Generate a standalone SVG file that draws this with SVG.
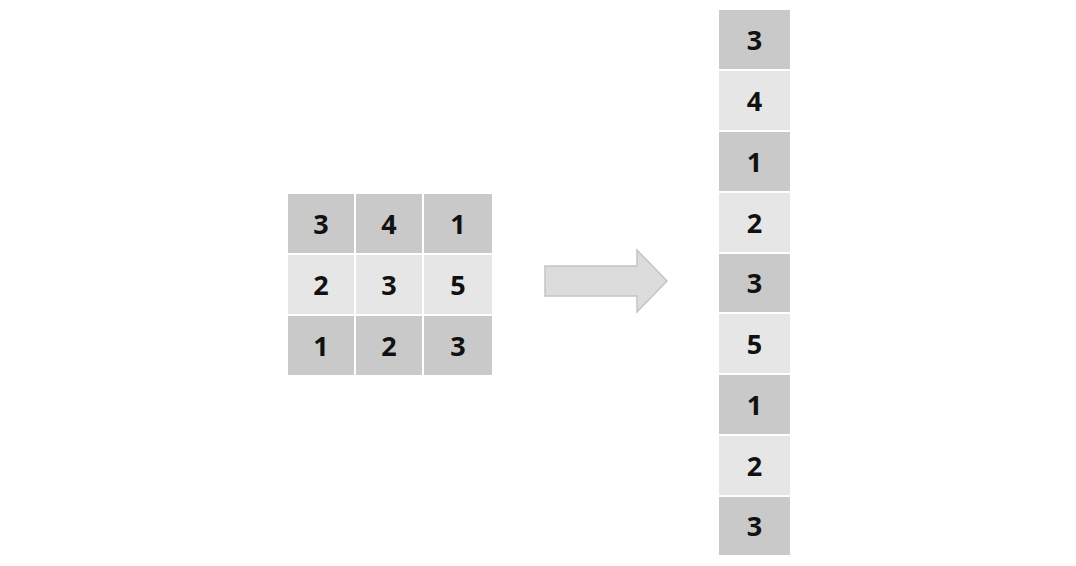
<svg xmlns="http://www.w3.org/2000/svg" width="1076" height="566" viewBox="0 0 1076 566">
<style>
.d{fill:#c9c9c9}
.l{fill:#e6e6e6}
text{font-family:"Open Sans","Liberation Sans",sans-serif;font-weight:bold;font-size:27px;fill:#111;text-anchor:middle;dominant-baseline:central}
</style>
<rect width="1076" height="566" fill="#fff"/>
<g id="grid">
<g id="g11"><rect class="d" x="288" y="194" width="66" height="59"/><text x="321" y="223">3</text></g>
<g id="g12"><rect class="d" x="356" y="194" width="66" height="59"/><text x="389" y="223">4</text></g>
<g id="g13"><rect class="d" x="424" y="194" width="68" height="59"/><text x="458" y="223">1</text></g>
<g id="g21"><rect class="l" x="288" y="255" width="66" height="59"/><text x="321" y="284">2</text></g>
<g id="g22"><rect class="l" x="356" y="255" width="66" height="59"/><text x="389" y="284">3</text></g>
<g id="g23"><rect class="l" x="424" y="255" width="68" height="59"/><text x="458" y="284">5</text></g>
<g id="g31"><rect class="d" x="288" y="316" width="66" height="59"/><text x="321" y="345">1</text></g>
<g id="g32"><rect class="d" x="356" y="316" width="66" height="59"/><text x="389" y="345">2</text></g>
<g id="g33"><rect class="d" x="424" y="316" width="68" height="59"/><text x="458" y="345">3</text></g>
</g>
<g id="connectors">
<polygon points="545,266 637,266 637,250 667,281 637,312 637,296 545,296" fill="#dcdcdc" stroke="#c4c4c4" stroke-width="1.5"/>
</g>
<g id="column">
<g id="c1"><rect class="d" x="719" y="10" width="71" height="59"/><text x="754.5" y="39">3</text></g>
<g id="c2"><rect class="l" x="719" y="71" width="71" height="59"/><text x="754.5" y="100">4</text></g>
<g id="c3"><rect class="d" x="719" y="132" width="71" height="59"/><text x="754.5" y="161">1</text></g>
<g id="c4"><rect class="l" x="719" y="193" width="71" height="59"/><text x="754.5" y="222">2</text></g>
<g id="c5"><rect class="d" x="719" y="254" width="71" height="58"/><text x="754.5" y="282">3</text></g>
<g id="c6"><rect class="l" x="719" y="314" width="71" height="59"/><text x="754.5" y="343">5</text></g>
<g id="c7"><rect class="d" x="719" y="375" width="71" height="59"/><text x="754.5" y="404">1</text></g>
<g id="c8"><rect class="l" x="719" y="436" width="71" height="59"/><text x="754.5" y="465">2</text></g>
<g id="c9"><rect class="d" x="719" y="497" width="71" height="58"/><text x="754.5" y="525">3</text></g>
</g>
</svg>
